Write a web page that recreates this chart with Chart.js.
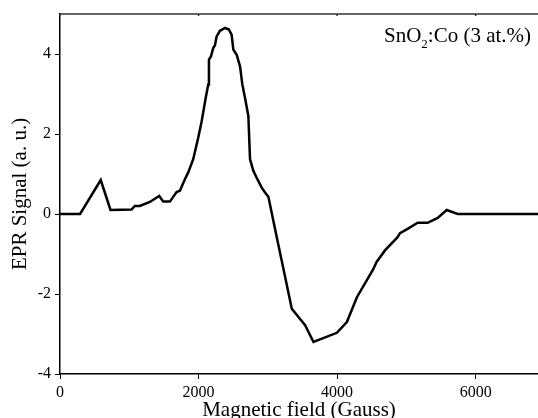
<!DOCTYPE html>
<html>
<head>
<meta charset="utf-8">
<script src="https://cdn.jsdelivr.net/npm/chart.js@4"></script>
<style>
  html, body { margin: 0; padding: 0; background: #fff; }
  canvas { display: block; }
</style>
</head>
<body>
<canvas id="eprChart" width="538" height="418"></canvas>
<script>
// magnetic field (Gauss) and EPR signal (a. u.)
const fieldGauss = [0, 290, 588, 729, 1032, 1080, 1152, 1297, 1432, 1490, 1586, 1683, 1731, 1803, 1851,
    1923, 1996, 2045, 2103, 2140, 2150, 2179, 2212, 2237, 2261, 2309, 2382, 2439, 2478, 2502, 2551,
    2599, 2632, 2671, 2719, 2729, 2743, 2791, 2849, 2912, 2960, 3008, 3129, 3225, 3346, 3538, 3659,
    3997, 4141, 4286, 4522, 4570, 4691, 4873, 4908, 5018, 5163, 5307, 5452, 5582, 5741, 6900];
const eprSignal = [0, 0, 0.85, 0.1, 0.11, 0.2, 0.2, 0.3, 0.45, 0.31, 0.31, 0.55, 0.58, 0.87, 1.04,
    1.37, 1.91, 2.32, 2.9, 3.24, 3.86, 3.94, 4.15, 4.22, 4.44, 4.58, 4.65, 4.61, 4.48, 4.11, 3.98,
    3.69, 3.24, 2.9, 2.45, 2.0, 1.37, 1.08, 0.87, 0.66, 0.54, 0.43, -0.58, -1.37, -2.37, -2.78, -3.2,
    -2.97, -2.7, -2.08, -1.38, -1.2, -0.91, -0.58, -0.48, -0.37, -0.22, -0.22, -0.1, 0.1, 0, 0];
const xTicks = [0, 2000, 4000, 6000];
const yTicks = [-4, -2, 0, 2, 4];

const serif = '"Liberation Serif", "Times New Roman", serif';

const points = fieldGauss.map(function (x, i) {
    return { x: x, y: eprSignal[i] };
});

// top frame line with small inward ticks, plus the sample label
const framePlugin = {
    id: 'frame',
    afterDraw: function (chart) {
        const ctx = chart.ctx;
        const area = chart.chartArea;
        const xs = chart.scales.x;
        ctx.save();
        ctx.strokeStyle = '#333';
        ctx.lineWidth = 1.5;
        ctx.beginPath();
        ctx.moveTo(area.left, area.top);
        ctx.lineTo(area.right, area.top);
        xTicks.forEach(function (t) {
            const px = xs.getPixelForValue(t);
            ctx.moveTo(px, area.top);
            ctx.lineTo(px, area.top + 2);
        });
        ctx.stroke();

        // SnO2:Co (3 at.%)
        ctx.fillStyle = '#000';
        ctx.textBaseline = 'alphabetic';
        ctx.font = '21px ' + serif;
        let x = 384;
        const y = 42;
        ctx.fillText('SnO', x, y);
        x += ctx.measureText('SnO').width;
        ctx.font = '13px ' + serif;
        ctx.fillText('2', x, y + 6);
        x += ctx.measureText('2').width;
        ctx.font = '21px ' + serif;
        ctx.fillText(':Co (3 at.%)', x, y);
        ctx.restore();
    }
};

const ctx = document.getElementById('eprChart').getContext('2d');
new Chart(ctx, {
    type: 'line',
    data: {
        datasets: [{
            data: points,
            borderColor: '#000',
            borderWidth: 2.5,
            pointRadius: 0,
            tension: 0,
            fill: false
        }]
    },
    options: {
        responsive: false,
        animation: false,
        layout: { padding: { top: 14, right: 0, left: 0, bottom: 0 } },
        plugins: {
            legend: { display: false },
            tooltip: { enabled: false }
        },
        scales: {
            x: {
                type: 'linear',
                min: 0,
                max: 6900,
                afterBuildTicks: function (scale) {
                    scale.ticks = xTicks.map(function (v) { return { value: v }; });
                },
                afterFit: function (scale) { scale.height = 44; },
                grid: { drawOnChartArea: false, drawTicks: true, tickLength: 5, color: '#000' },
                border: { display: true, color: '#000', width: 1.5 },
                ticks: {
                    color: '#000',
                    padding: 4,
                    maxRotation: 0,
                    font: { family: serif, size: 16 },
                    callback: function (v) { return String(v); }
                },
                title: {
                    display: true,
                    text: 'Magnetic field (Gauss)',
                    color: '#000',
                    padding: { top: 0, bottom: -5 },
                    font: { family: serif, size: 21 }
                }
            },
            y: {
                min: -4,
                max: 5,
                afterBuildTicks: function (scale) {
                    scale.ticks = yTicks.map(function (v) { return { value: v }; });
                },
                afterFit: function (scale) { scale.width = 60; },
                grid: { drawOnChartArea: false, drawTicks: true, tickLength: 5, color: '#000' },
                border: { display: true, color: '#000', width: 1.5 },
                ticks: {
                    color: '#000',
                    padding: 4,
                    font: { family: serif, size: 16 }
                },
                title: {
                    display: true,
                    text: 'EPR Signal (a. u.)',
                    color: '#000',
                    padding: { top: 8, bottom: 4 },
                    font: { family: serif, size: 21 }
                }
            }
        }
    },
    plugins: [framePlugin]
});
</script>
</body>
</html>
